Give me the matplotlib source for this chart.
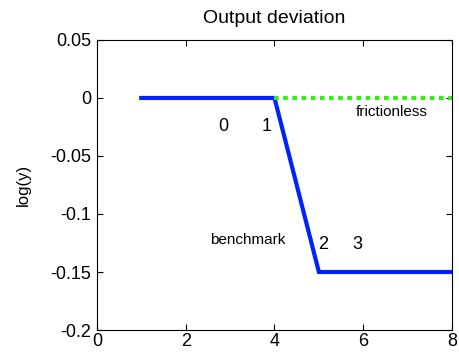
import matplotlib
matplotlib.use("Agg")
import matplotlib.pyplot as plt

plt.rcParams["font.family"] = ["Liberation Sans", "DejaVu Sans"]

# 数据
bench_x = [1, 2, 3, 4, 5, 6, 7, 8]
bench_y = [0, 0, 0, 0, -0.15, -0.15, -0.15, -0.15]
fric_x = [4, 5, 6, 7, 8]
fric_y = [0, 0, 0, 0, 0]

# 文本标注
labels = ["0", "1", "2", "3", "frictionless", "benchmark"]
label_x = [2.84, 3.83, 5.09, 5.86, 6.64, 3.4]
label_y = [-0.025, -0.025, -0.1265, -0.1265, -0.0125, -0.1225]
label_size = [13, 13, 13, 13, 11, 11]

fig = plt.figure(figsize=(4.59, 3.55), dpi=100)
ax = fig.add_axes([0.211, 0.0704, 0.774, 0.817])

ax.plot(bench_x, bench_y, color="#0022ff", linewidth=3, solid_joinstyle="miter")
ax.plot(fric_x, fric_y, color="#33ee11", linewidth=3,
        linestyle=(0, (1.1, 1.1)), dash_capstyle="butt")

for t, x, y, s in zip(labels, label_x, label_y, label_size):
    ax.text(x, y, t, fontsize=s, ha="center", va="center")

ax.set_xlim(0, 8)
ax.set_ylim(-0.2, 0.05)
ax.set_xticks([0, 2, 4, 6, 8])
ax.set_yticks([-0.2, -0.15, -0.1, -0.05, 0, 0.05])
ax.set_yticklabels(["-0.2", "-0.15", "-0.1", "-0.05", "0", "0.05"])
ax.tick_params(direction="in", top=True, right=True, labelsize=13, length=4)
ax.tick_params(axis="x", pad=2)
ax.tick_params(axis="y", pad=4)
for sp in ax.spines.values():
    sp.set_linewidth(0.8)

ax.set_title("Output deviation", fontsize=14, pad=12)
ax.set_ylabel("log(y)", fontsize=12, labelpad=14)

fig.savefig("out.png", dpi=100)
